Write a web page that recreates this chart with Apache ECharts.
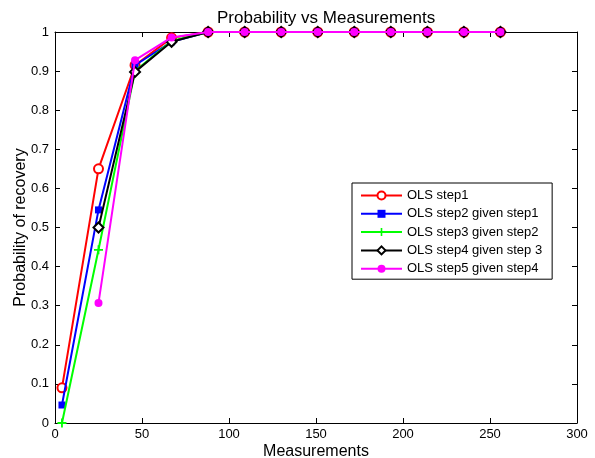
<!DOCTYPE html>
<html><head><meta charset="utf-8">
<script src="https://cdn.jsdelivr.net/npm/echarts@6/dist/echarts.min.js"></script>
<style>html,body{margin:0;padding:0;background:#fff}#c{width:595px;height:458px}</style>
</head><body><div id="c"></div>
<script>
var measurements = [4, 25, 46, 67, 88, 109, 130, 151, 172, 193, 214, 235, 256];
var seriesNames = ['OLS step1', 'OLS step2 given step1', 'OLS step3 given step2', 'OLS step4 given step 3', 'OLS step5 given step4'];
var step1 = [0.09, 0.65, 0.915, 0.985, 1, 1, 1, 1, 1, 1, 1, 1, 1];
var step2 = [0.046, 0.545, 0.915, 0.975, 1, 1, 1, 1, 1, 1, 1, 1, 1];
var step3 = [0, 0.443, 0.90, 0.977, 1, 1, 1, 1, 1, 1, 1, 1, 1];
var step4 = [null, 0.50, 0.898, 0.975, 1, 1, 1, 1, 1, 1, 1, 1, 1];
var step5 = [null, 0.307, 0.928, 0.986, 1, 1, 1, 1, 1, 1, 1, 1, 1];
var colors = ['#ff0000', '#0000ff', '#00ff00', '#000000', '#ff00ff'];
var allData = [step1, step2, step3, step4, step5];
var plusPath = 'path://M4,0H6V4H10V6H6V10H4V6H0V4H4Z';
var symbols = ['emptyCircle', 'rect', plusPath, 'emptyDiamond', 'circle'];
var sizes = [9, 7, 9, 10, 8];

function pairs(d){ return measurements.map(function(x,i){ return d[i]==null ? null : [x, d[i]]; }).filter(function(p){return p;}); }

var font = 'Liberation Sans, Arial, Helvetica, sans-serif';
var series = allData.map(function(d, i){
  return {
    name: seriesNames[i], type: 'line', data: pairs(d),
    symbol: symbols[i], symbolSize: sizes[i], showAllSymbol: true,
    lineStyle: {color: colors[i], width: 2},
    itemStyle: {color: colors[i], borderColor: colors[i], borderWidth: (symbols[i].indexOf('empty')===0 ? 2 : 0)},
    z: 2 + i, animation: false
  };
});

var boxAxis = {
  axisLine: {show: true, onZero: false, lineStyle: {color: '#000', width: 1}},
  axisTick: {show: true, inside: true, length: 5, lineStyle: {color: '#000'}},
  axisLabel: {show: false}, splitLine: {show: false}
};

var chart = echarts.init(document.getElementById('c'), null, {renderer: 'canvas'});
chart.setOption({
  animation: false,
  title: {text: 'Probability vs Measurements', left: 212, top: 5,
    textStyle: {fontFamily: font, fontSize: 17, fontWeight: 'normal', color: '#000'}},
  grid: {left: 55, right: 18, top: 32, bottom: 35, containLabel: false, outerBoundsMode: 'none'},
  legend: {
    data: seriesNames, orient: 'vertical', left: 352, top: 183,
    itemWidth: 41, itemHeight: 10, itemGap: 5.3,
    padding: [6, 10, 4, 8],
    borderColor: '#000', borderWidth: 1, backgroundColor: '#fff',
    textStyle: {fontFamily: font, fontSize: 13, color: '#000', padding: [0, 0, 0, 0]}
  },
  xAxis: [Object.assign({
    type: 'value', min: 0, max: 300, interval: 50,
    name: 'Measurements', nameLocation: 'middle', nameGap: 21, nameMoveOverlap: false,
    nameTextStyle: {fontFamily: font, fontSize: 16, color: '#000'}
  }, boxAxis, {
    axisLabel: {show: true, fontFamily: font, fontSize: 13, color: '#000', margin: 5}
  }), Object.assign({
    type: 'value', min: 0, max: 300, interval: 50, position: 'top'
  }, boxAxis)],
  yAxis: [Object.assign({
    type: 'value', min: 0, max: 1, interval: 0.1,
    name: 'Probability of recovery', nameLocation: 'middle', nameGap: 26, nameMoveOverlap: false,
    nameTextStyle: {fontFamily: font, fontSize: 16, color: '#000'}
  }, boxAxis, {
    axisLabel: {show: true, fontFamily: font, fontSize: 13, color: '#000', margin: 6,
      formatter: function(v){ return String(Math.round(v*10)/10); }}
  }), Object.assign({
    type: 'value', min: 0, max: 1, interval: 0.1, position: 'right'
  }, boxAxis)],
  series: series
});
</script></body></html>
